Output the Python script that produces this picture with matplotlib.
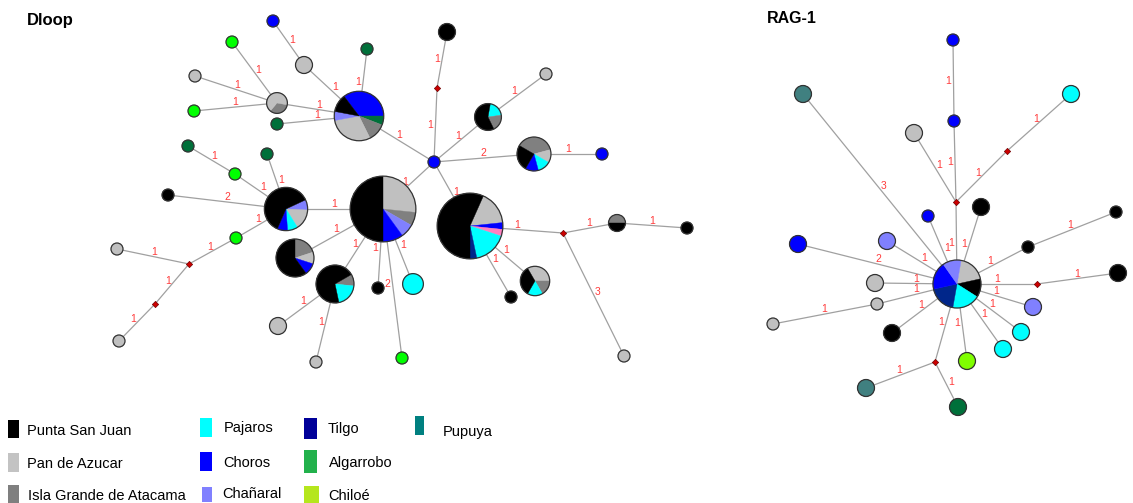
import numpy as np
import matplotlib.pyplot as plt
from matplotlib.patches import Wedge, Circle, Rectangle

plt.rcParams['font.family'] = ['Liberation Sans', 'DejaVu Sans']

# colours used for the network nodes
node_colors = {
    'psj': '#000000', 'pda': '#c0c0c0', 'iga': '#808080', 'paj': '#00ffff',
    'cho': '#0000ff', 'cha': '#8080ff', 'til': '#00268a', 'pup': '#408080',
    'alg': '#00703a', 'chi': '#80ff00', 'grn': '#00ff00', 'pnk': '#ff80c0',
}

# legend entries (as in the figure key)
legend_labels = ['Punta San Juan', 'Pan de Azucar', 'Isla Grande de Atacama',
                 'Pajaros', 'Choros', 'Chañaral',
                 'Tilgo', 'Algarrobo', 'Chiloé', 'Pupuya']
legend_colors = ['#000000', '#c3c3c3', '#7f7f7f',
                 '#00ffff', '#0000ff', '#8080ff',
                 '#000099', '#22b14c', '#b5e61d', '#008080']

# ---- Dloop network: layout, pie start angle, haplotype counts per population
dloop_x = [273, 232, 304, 195, 277, 194, 277, 188, 267, 235, 168, 367, 359, 447,
           437, 546, 488, 434, 534, 602, 286, 236, 117, 189, 155, 119, 383, 295,
           335, 278, 316, 378, 413, 402, 470, 563, 617, 687, 624, 535, 511]
dloop_y = [21, 42, 65, 76, 103, 111, 124, 146, 154, 174, 195, 49, 116, 32,
           88, 74, 117, 162, 154, 154, 209, 238, 249, 264, 304, 341, 209, 258,
           284, 326, 362, 288, 284, 358, 226, 233, 223, 228, 356, 281, 297]
dloop_start = {4: -10, 12: 127, 16: 80, 18: 150, 20: 25, 26: 90, 27: 90,
               28: 30, 34: 66, 36: 180, 39: 120}
dloop_counts = [
    [('cho', 1)], [('grn', 1)], [('pda', 2)], [('pda', 1)],
    [('iga', 1), ('pda', 2)],
    [('grn', 1)], [('alg', 1)], [('alg', 1)], [('alg', 1)], [('grn', 1)],
    [('psj', 1)], [('alg', 1)],
    [('cho', 6), ('alg', 1), ('iga', 2), ('pda', 5), ('cha', 1), ('psj', 2)],
    [('psj', 2)], [], [('pda', 1)],
    [('paj', 1), ('iga', 1), ('psj', 3)],
    [('cho', 1)],
    [('iga', 3), ('pda', 1), ('paj', 1), ('cho', 1), ('psj', 2)],
    [('cho', 1)],
    [('cha', 1), ('pda', 2), ('paj', 1), ('cho', 1), ('psj', 8)],
    [('grn', 1)], [('pda', 1)], [], [], [('pda', 1)],
    [('pda', 8), ('iga', 2), ('cha', 2), ('cho', 3), ('psj', 15)],
    [('iga', 2), ('pda', 1), ('cho', 1), ('psj', 6)],
    [('iga', 1), ('paj', 2), ('psj', 7)],
    [('pda', 2)], [('pda', 1)], [('psj', 1)], [('paj', 3)], [('grn', 1)],
    [('pda', 5), ('cho', 1), ('pnk', 1), ('paj', 5), ('til', 1), ('psj', 17)],
    [], [('iga', 1), ('psj', 1)], [('psj', 1)], [('pda', 1)],
    [('pda', 2), ('iga', 1), ('paj', 1), ('psj', 2)],
    [('psj', 1)],
]
dloop_edges = [(0, 2, '1'), (2, 12, '1'), (11, 12, '1'), (1, 4, '1'), (3, 4, '1'),
               (5, 4, '1'), (4, 12, '1'), (6, 12, '1'), (12, 17, '1'), (13, 14, '1'),
               (14, 17, '1'), (17, 16, '1'), (16, 15, '1'), (17, 18, '2'),
               (18, 19, '1'), (17, 26, '1'), (17, 34, '1'), (7, 9, '1'), (9, 20, '1'),
               (8, 20, '1'), (10, 20, '2'), (20, 26, '1'), (21, 20, '1'),
               (23, 21, '1'), (22, 23, '1'), (23, 24, '1'), (24, 25, '1'),
               (26, 27, '1'), (26, 28, '1'), (26, 31, '1'), (26, 33, '2'),
               (26, 32, '1'), (28, 29, '1'), (28, 30, '1'), (34, 35, '1'),
               (35, 36, '1'), (36, 37, '1'), (35, 38, '3'), (34, 39, '1'),
               (34, 40, '1')]

# ---- RAG-1 network
rag_x = [953, 954, 803, 1071, 914, 1007, 956, 981, 928, 1116, 957, 1028, 1118,
         1037, 798, 887, 875, 877, 773, 892, 1033, 1021, 1003, 967, 935, 866, 958]
rag_y = [40, 121, 94, 94, 133, 151, 202, 207, 216, 212, 284, 247, 273,
         284, 244, 241, 283, 304, 324, 333, 307, 332, 349, 361, 362, 388, 407]
rag_start = {10: 80}
rag_counts = [
    [('cho', 1)], [('cho', 1)], [('pup', 2)], [('paj', 2)], [('pda', 2)], [], [],
    [('psj', 2)], [('cho', 1)], [('psj', 1)],
    [('pda', 3), ('psj', 2), ('paj', 3), ('til', 3), ('cho', 3), ('cha', 2)],
    [('psj', 1)], [('psj', 2)], [], [('cho', 2)], [('cha', 2)], [('pda', 2)],
    [('pda', 1)], [('pda', 1)], [('psj', 2)], [('cha', 2)], [('paj', 2)],
    [('paj', 2)], [('chi', 2)], [], [('pup', 2)], [('alg', 2)],
]
rag_edges = [(0, 1, '1'), (1, 6, '1'), (4, 6, '1'), (2, 10, '3'), (3, 5, '1'),
             (5, 6, '1'), (6, 10, '1'), (7, 10, '1'), (8, 10, '1'), (15, 10, '1'),
             (14, 10, '2'), (16, 10, '1'), (17, 10, '1'), (18, 17, '1'),
             (19, 10, '1'), (24, 10, '1'), (25, 24, '1'), (26, 24, '1'),
             (23, 10, '1'), (22, 10, '1'), (21, 10, '1'), (20, 10, '1'),
             (13, 10, '1'), (12, 13, '1'), (11, 10, '1'), (9, 11, '1')]


def draw_network(ax, xs, ys, counts, starts, edges):
    # links first, with the mutation count near the middle
    for i, j, lab in edges:
        ax.plot([xs[i], xs[j]], [ys[i], ys[j]], color='#a0a0a0', lw=0.9, zorder=1)
        dx, dy = xs[j] - xs[i], ys[j] - ys[i]
        L = np.hypot(dx, dy)
        nx, ny = -dy / L, dx / L
        if abs(ny) < 0.2:
            # near-vertical link: put the number on its left
            if nx > 0:
                nx, ny = -nx, -ny
        elif ny > 0:
            nx, ny = -nx, -ny
        mx, my = (xs[i] + xs[j]) / 2 + 5 * nx, (ys[i] + ys[j]) / 2 + 5 * ny
        ax.text(mx, my, lab, color='#ff3b3b', fontsize=7.5, ha='center',
                va='center', zorder=2)
    # haplotype pies
    for k, parts in enumerate(counts):
        x, y = xs[k], ys[k]
        if not parts:
            ax.plot(x, y, marker='D', ms=3.2, color='#cc0000', mec='#700000',
                    mew=0.5, zorder=5)
            continue
        n = sum(c for _, c in parts)
        r = 6 * np.sqrt(n)
        a0 = starts.get(k, 90)
        for pop, c in parts:
            d = 360.0 * c / n
            # y axis is inverted, so draw clockwise from a0 on screen
            ax.add_patch(Wedge((x, y), r, -a0, -a0 + d, facecolor=node_colors[pop],
                               edgecolor=node_colors[pop], lw=0.3, zorder=3))
            a0 -= d
        ax.add_patch(Circle((x, y), r, fill=False, edgecolor='#333333', lw=0.9,
                            zorder=4))


fig = plt.figure(figsize=(11.33, 5.03), dpi=100)
ax = fig.add_axes([0, 0, 1, 1])
ax.set_xlim(0, 1133)
ax.set_ylim(503, 0)
ax.set_aspect('equal')
ax.axis('off')

draw_network(ax, dloop_x, dloop_y, dloop_counts, dloop_start, dloop_edges)
draw_network(ax, rag_x, rag_y, rag_counts, rag_start, rag_edges)

ax.text(27, 25, 'Dloop', fontsize=12, fontweight='bold', va='baseline')
ax.text(767, 23, 'RAG-1', fontsize=11.5, fontweight='bold', va='baseline')

# key at the bottom
swatches = [(8, 420, 11, 18), (8, 453, 11, 19), (8, 485, 11, 18),
            (200, 418, 12, 19), (200, 452, 12, 19), (202, 487, 10, 15),
            (304, 418, 13, 21), (304, 450, 13, 23), (304, 486, 15, 17),
            (415, 416, 9, 19)]
text_pos = [(27, 435), (27, 468), (28, 500),
            (224, 432), (223, 467), (222, 498),
            (328, 433), (329, 467), (328, 500),
            (443, 436)]
for lab, col, (sx, sy, sw, sh), (tx, ty) in zip(legend_labels, legend_colors,
                                                swatches, text_pos):
    ax.add_patch(Rectangle((sx, sy), sw, sh, facecolor=col, edgecolor='none'))
    ax.text(tx, ty, lab, fontsize=10.5, va='baseline', ha='left')

fig.savefig('out.png', dpi=100)
